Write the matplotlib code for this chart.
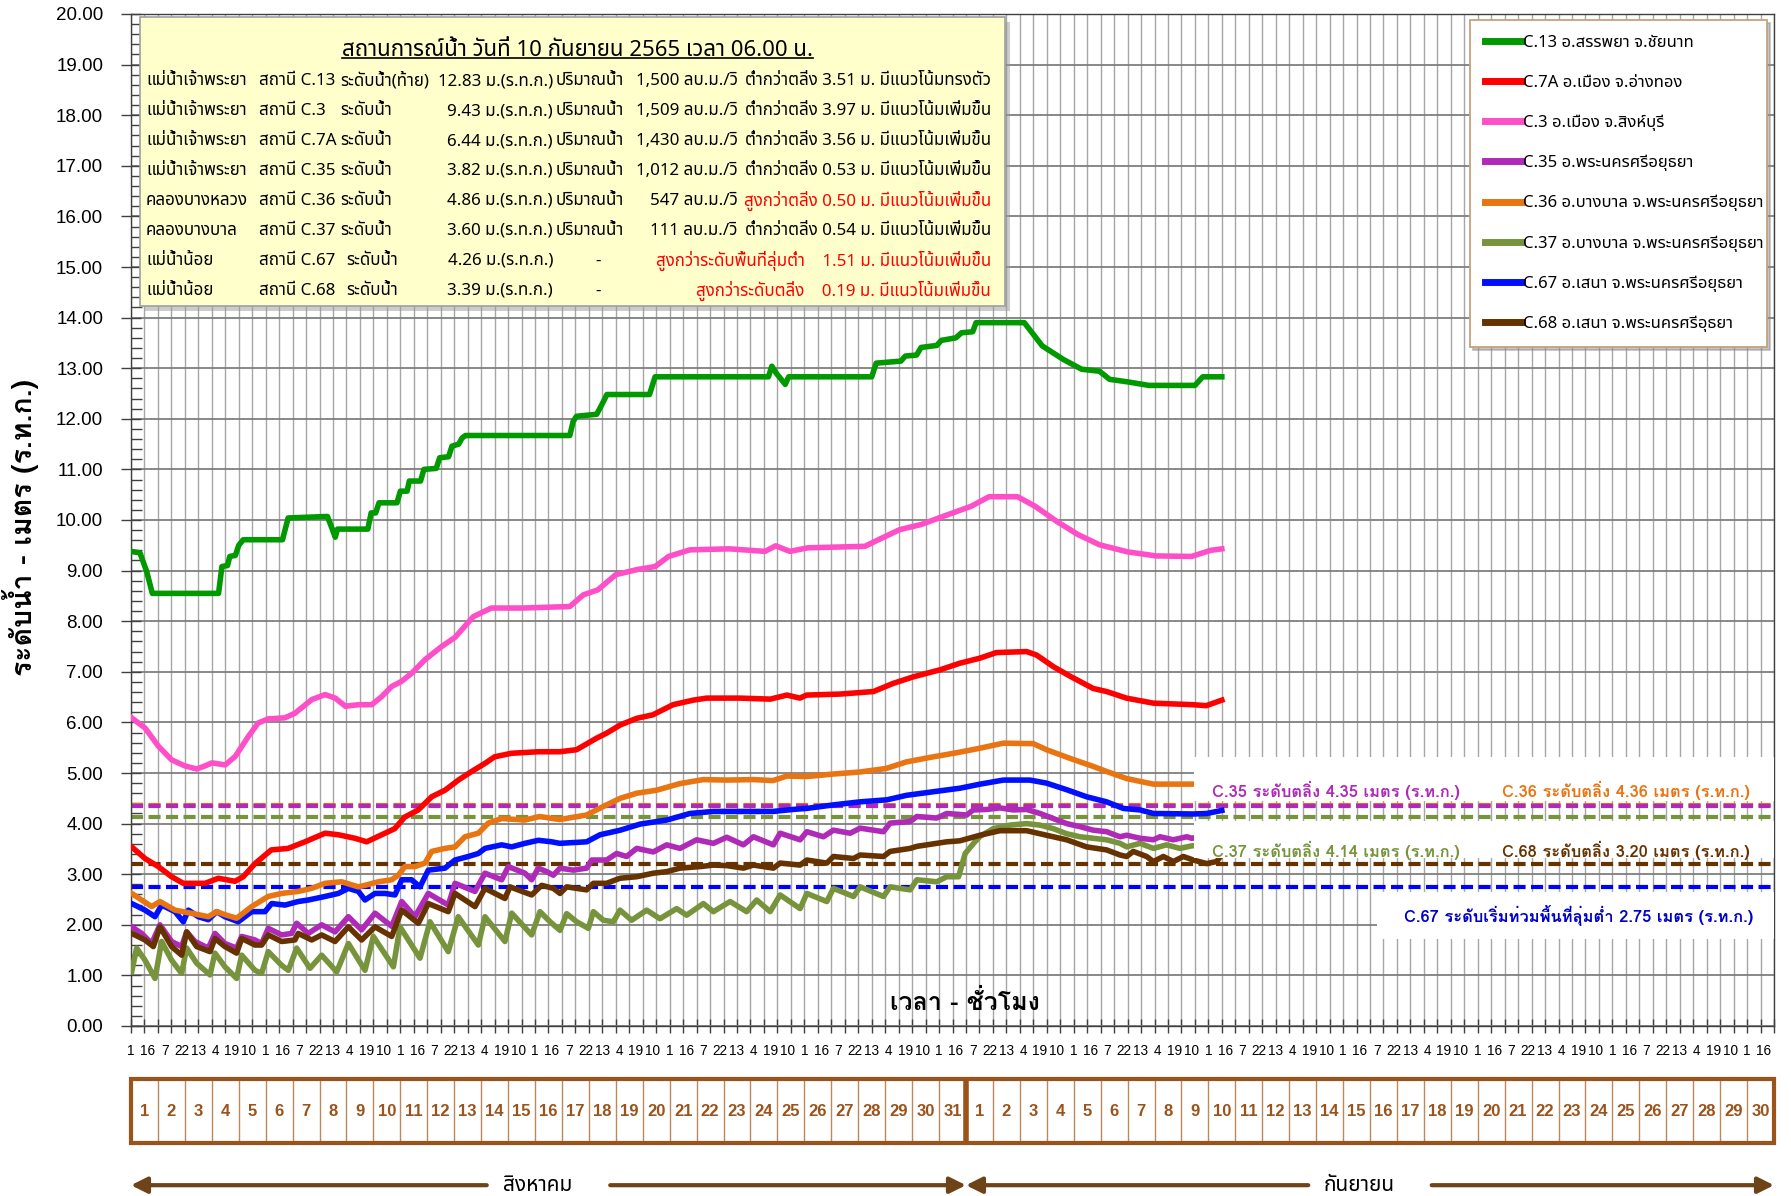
import numpy as np
import matplotlib
matplotlib.use("Agg")
import matplotlib.pyplot as plt
from matplotlib import font_manager
from matplotlib.ft2font import FT2Font
from matplotlib.patches import Rectangle
from matplotlib.lines import Line2D

W, H = 1791, 1196

# ---------------------------------------------------------------- data
# time axis: hours counted from 1 Aug 2565 01:00
t_now = 972
hours_total = 1464
month_names = ["สิงหาคม", "กันยายน"]
month_days = [31, 30]

# (hour, level m. MSL) readings per station
c13_pts = [(0, 9.38), (8, 9.35), (14, 8.98), (19, 8.55), (78, 8.55), (81, 9.08), (86, 9.10),
           (88, 9.28), (93, 9.30), (96, 9.50), (100, 9.61), (135, 9.61), (140, 10.04), (175, 10.07),
           (178, 9.90), (182, 9.66), (184, 9.82), (211, 9.82), (214, 10.14), (218, 10.14), (221, 10.34),
           (237, 10.34), (240, 10.57), (246, 10.57), (248, 10.77), (258, 10.77), (261, 11.00),
           (272, 11.02), (275, 11.23), (283, 11.25), (286, 11.46), (292, 11.50), (295, 11.62),
           (298, 11.67), (391, 11.67), (394, 11.95), (397, 12.05), (415, 12.09), (420, 12.30),
           (424, 12.48), (462, 12.48), (467, 12.83), (568, 12.83), (571, 13.04), (575, 12.90),
           (583, 12.68), (586, 12.83), (660, 12.83), (664, 13.10), (686, 13.14), (690, 13.24),
           (700, 13.26), (704, 13.41), (718, 13.45), (722, 13.55), (735, 13.60), (740, 13.70),
           (750, 13.72), (753, 13.90), (796, 13.90), (812, 13.44), (831, 13.17), (847, 12.98),
           (863, 12.94), (872, 12.78), (888, 12.73), (907, 12.66), (948, 12.66), (955, 12.83)]

c3_pts = [(0.6, 6.09), (12.5, 5.89), (24.4, 5.53), (36.2, 5.26), (48, 5.14), (58.5, 5.08), (66, 5.14),
          (72, 5.20), (84, 5.16), (93, 5.33), (104.5, 5.72), (113.4, 5.99), (122.3, 6.07), (137, 6.09),
          (146, 6.18), (161, 6.45), (173, 6.55), (182, 6.48), (191, 6.32), (203, 6.35), (214.5, 6.35),
          (223.4, 6.51), (232.3, 6.71), (241, 6.81), (250, 6.97), (262, 7.24), (276.8, 7.50),
          (288.7, 7.68), (305, 8.09), (321, 8.26), (349, 8.26), (391, 8.29), (403, 8.52), (416, 8.62),
          (432, 8.92), (451, 9.02), (467, 9.08), (479, 9.28), (498, 9.41), (533, 9.43), (565, 9.38),
          (574.5, 9.49), (587, 9.38), (603, 9.45), (654, 9.48), (666, 9.61), (685, 9.81), (704, 9.91),
          (723.5, 10.07), (748.5, 10.27), (764.5, 10.46), (790, 10.46), (805.7, 10.27), (825, 9.97),
          (844, 9.71), (863, 9.51), (888, 9.37), (913.5, 9.29), (945, 9.28), (962, 9.40)]

c7a_pts = [(0.6, 3.54), (12.5, 3.31), (24.4, 3.15), (36.2, 2.95), (46.6, 2.82), (66, 2.82), (77.8, 2.92),
           (92.7, 2.86), (100, 2.95), (110.5, 3.21), (125, 3.48), (140, 3.51), (155, 3.64), (172.9, 3.81),
           (184.7, 3.78), (199.6, 3.71), (210, 3.64), (223.4, 3.78), (235, 3.90), (244, 4.13), (256, 4.27),
           (267.9, 4.53), (279.8, 4.66), (291.7, 4.86), (303.5, 5.03), (315.4, 5.19), (324, 5.32),
           (339, 5.39), (363, 5.42), (382, 5.42), (397, 5.46), (415, 5.69), (424, 5.79), (436, 5.95),
           (450.6, 6.08), (465, 6.15), (483, 6.35), (501, 6.44), (513, 6.48), (543, 6.48), (569.6, 6.46),
           (584.5, 6.54), (596, 6.48), (602, 6.54), (632, 6.56), (661.6, 6.61), (679, 6.77), (697, 6.90),
           (721, 7.04), (738.6, 7.17), (756.5, 7.27), (771, 7.38), (798, 7.40), (807, 7.33), (822, 7.10),
           (837, 6.91), (857.4, 6.67), (869.3, 6.61), (887, 6.48), (911, 6.38), (946.5, 6.35), (958, 6.33)]

c35_pts = [(0.6, 1.96), (9.5, 1.83), (18.4, 1.63), (25.8, 2.00), (36.2, 1.67), (45.1, 1.57), (49.6, 1.86),
           (57, 1.67), (68.9, 1.54), (74.8, 1.83), (83.7, 1.63), (94.1, 1.54), (98.6, 1.77), (110.5, 1.70),
           (116.4, 1.63), (122.3, 1.93), (134.2, 1.80), (143.1, 1.83), (147.6, 2.03), (158, 1.83),
           (169.9, 2.00), (181.8, 1.86), (193.7, 2.16), (205.5, 1.90), (217.4, 2.23), (232.3, 1.97),
           (241.2, 2.46), (253, 2.16), (264.9, 2.62), (282.7, 2.39), (288.7, 2.82), (306.5, 2.66),
           (315.4, 3.02), (330.3, 2.89), (336.2, 3.15), (351, 3.02), (357, 2.89), (363, 3.12),
           (370.4, 3.05), (376.3, 2.98), (382.3, 3.12), (394.1, 3.08), (406, 3.12), (410.5, 3.28),
           (423.8, 3.28), (432.7, 3.41), (441.6, 3.35), (450.6, 3.51), (465.4, 3.44), (477.3, 3.58),
           (489.2, 3.51), (504, 3.68), (518.9, 3.61), (530.8, 3.73), (545.7, 3.58), (554.6, 3.74),
           (572.4, 3.58), (578.4, 3.81), (596.2, 3.68), (602.2, 3.84), (617, 3.74), (625.9, 3.87),
           (640.8, 3.81), (649.7, 3.91), (670.5, 3.84), (676.4, 4.01), (694.3, 4.04), (700.2, 4.14),
           (718, 4.11), (726.9, 4.20), (744.7, 4.17), (750.5, 4.27), (762.4, 4.28), (774.3, 4.31),
           (786.2, 4.27), (798, 4.28), (810, 4.20), (821.8, 4.10), (833.7, 4.00), (845.6, 3.94),
           (857.4, 3.87), (869.3, 3.84), (881.2, 3.74), (887.2, 3.77), (899.1, 3.71), (911, 3.68),
           (916.9, 3.74), (928.8, 3.68), (940.7, 3.74), (945.1, 3.71)]

c36_pts = [(0.6, 2.62), (18.4, 2.36), (25.8, 2.46), (39.2, 2.29), (60, 2.20), (68.9, 2.16), (76.3, 2.26),
           (83.7, 2.20), (94.1, 2.13), (107.5, 2.36), (122.3, 2.56), (134.2, 2.62), (149, 2.66),
           (161, 2.72), (172.9, 2.82), (187.7, 2.85), (202.6, 2.75), (208.5, 2.78), (220.4, 2.85),
           (232.3, 2.89), (238.2, 2.98), (244.1, 3.15), (253, 3.15), (262, 3.22), (267.9, 3.45),
           (279.8, 3.51), (288.7, 3.54), (297.6, 3.74), (309.5, 3.81), (318.4, 4.01), (330.3, 4.10),
           (351, 4.07), (364, 4.14), (382, 4.08), (406, 4.17), (421, 4.34), (436, 4.50), (450.6, 4.60),
           (468.4, 4.66), (489, 4.79), (510, 4.87), (531, 4.86), (554.5, 4.87), (572, 4.85), (584.5, 4.94),
           (602, 4.93), (626, 4.98), (649.6, 5.02), (673, 5.09), (691, 5.22), (715, 5.32), (735.6, 5.40),
           (756.5, 5.49), (777.3, 5.59), (804, 5.58), (815.8, 5.46), (836.6, 5.29), (857.4, 5.13),
           (869.3, 5.03), (887.2, 4.89), (911, 4.78), (946.6, 4.78)]

c37_pts = [(0.6, 1.07), (5, 1.54), (12.5, 1.30), (21.4, 0.94), (27.3, 1.67), (36.2, 1.30), (45.1, 1.04),
           (49.6, 1.54), (58.5, 1.24), (70.4, 1.01), (74.8, 1.44), (83.7, 1.17), (94.1, 0.94), (98.6, 1.40),
           (110.5, 1.10), (116.4, 1.04), (122.3, 1.47), (134.2, 1.20), (140.2, 1.10), (147.6, 1.54),
           (159.5, 1.14), (169.9, 1.40), (183.3, 1.07), (193.7, 1.63), (208.5, 1.10), (215.9, 1.77),
           (233.8, 1.17), (239.7, 1.96), (257.5, 1.34), (266.4, 2.06), (282.7, 1.47), (291.6, 2.16),
           (309.5, 1.60), (315.4, 2.16), (333.2, 1.67), (339.2, 2.23), (357, 1.80), (364.4, 2.26),
           (373.4, 2.06), (382.3, 1.89), (388.2, 2.22), (397.1, 2.06), (407.5, 1.93), (412, 2.26),
           (420.9, 2.09), (429.8, 2.06), (435.7, 2.29), (446.1, 2.09), (459.5, 2.29), (471.3, 2.12),
           (486.2, 2.32), (495.1, 2.19), (510, 2.42), (518.9, 2.26), (533.8, 2.46), (548.6, 2.26),
           (557.5, 2.49), (569.5, 2.26), (578.4, 2.59), (596.2, 2.32), (602.2, 2.62), (620, 2.46),
           (625.9, 2.72), (643.8, 2.56), (649.7, 2.75), (670.5, 2.56), (676.4, 2.75), (694.3, 2.69),
           (700.2, 2.89), (718, 2.85), (726.9, 2.95), (737.4, 2.95), (743.3, 3.41), (750.8, 3.61),
           (756.6, 3.75), (768.4, 3.90), (783.2, 3.97), (798, 4.00), (810, 3.97), (821.8, 3.90),
           (833.7, 3.80), (845.6, 3.74), (857.4, 3.71), (869.3, 3.68), (881.2, 3.61), (887.2, 3.54),
           (899.1, 3.61), (911, 3.51), (922.8, 3.58), (934.7, 3.51), (945.1, 3.56)]

c67_pts = [(0.6, 2.42), (12.5, 2.29), (21.4, 2.16), (27.3, 2.39), (39.2, 2.26), (46.6, 2.06), (51.1, 2.29),
           (60, 2.16), (68.9, 2.10), (76.3, 2.26), (83.7, 2.16), (95.6, 2.06), (107.5, 2.26), (119.4, 2.26),
           (125.3, 2.42), (137.2, 2.39), (149, 2.46), (158, 2.49), (172.9, 2.56), (184.7, 2.62),
           (193.7, 2.72), (202.6, 2.66), (208.5, 2.49), (217.4, 2.62), (226.3, 2.62), (235.2, 2.59),
           (241.2, 2.89), (250, 2.89), (257.5, 2.75), (264.9, 3.08), (279.8, 3.12), (288.7, 3.28),
           (300.6, 3.35), (309.5, 3.41), (315.4, 3.51), (330.3, 3.58), (339.2, 3.54), (351, 3.61),
           (363, 3.67), (374.9, 3.64), (382, 3.61), (406, 3.64), (418, 3.78), (436, 3.87), (453.6, 3.99),
           (477.3, 4.07), (498, 4.20), (519, 4.24), (572, 4.24), (590, 4.28), (602, 4.30), (626, 4.37),
           (649.7, 4.43), (673.5, 4.47), (691.3, 4.56), (715, 4.63), (738.8, 4.70), (756.6, 4.78),
           (777.3, 4.86), (801, 4.86), (815.8, 4.80), (833.7, 4.67), (851.5, 4.53), (869.3, 4.43),
           (884.2, 4.30), (899.1, 4.27), (911, 4.20), (946.6, 4.19), (958.5, 4.20)]

c68_pts = [(0.6, 1.83), (12.5, 1.70), (19.9, 1.57), (25.8, 1.96), (36.2, 1.57), (45.1, 1.40), (49.6, 1.86),
           (58.5, 1.57), (70.4, 1.47), (74.8, 1.73), (83.7, 1.57), (94.1, 1.44), (98.6, 1.73), (110.5, 1.60),
           (116.4, 1.60), (122.3, 1.80), (134.2, 1.67), (146, 1.70), (149, 1.83), (161, 1.70), (169.9, 1.80),
           (181.8, 1.67), (193.7, 1.96), (205.5, 1.70), (217.4, 1.96), (232.3, 1.77), (241.2, 2.29),
           (256, 2.03), (264.9, 2.42), (282.7, 2.26), (288.7, 2.62), (306.5, 2.36), (315.4, 2.72),
           (333.2, 2.52), (337.7, 2.75), (357, 2.59), (365.9, 2.78), (376.3, 2.72), (382.3, 2.62),
           (388.2, 2.75), (406, 2.69), (412, 2.82), (423.8, 2.82), (435.7, 2.92), (450.6, 2.95),
           (465.4, 3.02), (477.3, 3.05), (489.2, 3.12), (507, 3.15), (518.9, 3.18), (530.8, 3.17),
           (545.7, 3.12), (554.6, 3.18), (572.4, 3.12), (578.4, 3.22), (596.2, 3.18), (602.2, 3.28),
           (620, 3.22), (625.9, 3.35), (643.8, 3.31), (649.7, 3.38), (670.5, 3.35), (676.4, 3.45),
           (694.3, 3.51), (700.2, 3.55), (718, 3.61), (726.9, 3.64), (738.6, 3.66), (756.5, 3.77),
           (774.3, 3.86), (798, 3.86), (815.8, 3.77), (833.7, 3.68), (851.5, 3.54), (869.3, 3.48),
           (881.2, 3.38), (887.2, 3.35), (893.1, 3.45), (905, 3.35), (911, 3.25), (919.9, 3.35),
           (928.8, 3.25), (937.7, 3.35), (946.6, 3.28), (958.5, 3.21), (967.4, 3.25)]

# situation table, 10 Sep 2565 06:00
codes = ["C.13", "C.3", "C.7A", "C.35", "C.36", "C.37", "C.67", "C.68"]
rivers = ["แม่น้ำเจ้าพระยา", "แม่น้ำเจ้าพระยา", "แม่น้ำเจ้าพระยา", "แม่น้ำเจ้าพระยา",
          "คลองบางหลวง", "คลองบางบาล", "แม่น้ำน้อย", "แม่น้ำน้อย"]
level_now = [12.83, 9.43, 6.44, 3.82, 4.86, 3.60, 4.26, 3.39]
flow_now = [1500, 1509, 1430, 1012, 547, 111, None, None]
bank_diff = [3.51, 3.97, 3.56, 0.53, 0.50, 0.54, 1.51, 0.19]
bank_ref = ["ต่ำกว่าตลิ่ง", "ต่ำกว่าตลิ่ง", "ต่ำกว่าตลิ่ง", "ต่ำกว่าตลิ่ง", "สูงกว่าตลิ่ง",
            "ต่ำกว่าตลิ่ง", "สูงกว่าระดับพื้นที่ลุ่มต่ำ", "สูงกว่าระดับตลิ่ง"]
trend = ["มีแนวโน้มทรงตัว"] + ["มีแนวโน้มเพิ่มขึ้น"] * 7

series_pts = {"C.13": c13_pts, "C.3": c3_pts, "C.7A": c7a_pts, "C.35": c35_pts,
              "C.36": c36_pts, "C.37": c37_pts, "C.67": c67_pts, "C.68": c68_pts}

legend_codes = ["C.13", "C.7A", "C.3", "C.35", "C.36", "C.37", "C.67", "C.68"]
legend_names = ["C.13 อ.สรรพยา จ.ชัยนาท", "C.7A อ.เมือง จ.อ่างทอง", "C.3 อ.เมือง จ.สิงห์บุรี",
                "C.35 อ.พระนครศรีอยุธยา", "C.36 อ.บางบาล จ.พระนครศรีอยุธยา",
                "C.37 อ.บางบาล จ.พระนครศรีอยุธยา", "C.67 อ.เสนา จ.พระนครศรีอยุธยา",
                "C.68 อ.เสนา จ.พระนครศรีอุธยา"]

thr_codes = ["C.36", "C.35", "C.37", "C.68", "C.67"]
thr_level = [4.36, 4.35, 4.14, 3.20, 2.75]
thr_text = ["C.36 ระดับตลิ่ง 4.36 เมตร (ร.ท.ก.)", "C.35 ระดับตลิ่ง 4.35 เมตร (ร.ท.ก.)",
            "C.37 ระดับตลิ่ง 4.14 เมตร (ร.ท.ก.)", "C.68 ระดับตลิ่ง 3.20 เมตร (ร.ท.ก.)",
            "C.67 ระดับเริ่มท่วมพื้นที่ลุ่มต่ำ 2.75 เมตร (ร.ท.ก.)"]

colors = {"C.13": "#009900", "C.7A": "#FF0000", "C.3": "#FF4FC8", "C.35": "#B02AB8",
          "C.36": "#E87511", "C.37": "#77943C", "C.67": "#0010FF", "C.68": "#663300"}


# ---------------------------------------------------------------- fonts
def _weight(w):
    if isinstance(w, str):
        return font_manager.weight_dict.get(w, 400)
    return int(w)


def pick_thai_fonts():
    """Return (regular, bold) family names that cover Thai script."""
    preferred = ["Noto Sans Thai", "Noto Sans Thai UI", "Tahoma", "Loma", "Garuda",
                 "Sarabun", "Tlwg Typo", "Kinnari", "Norasi"]
    weights = {}
    for f in font_manager.fontManager.ttflist:
        try:
            if 0x0E01 not in FT2Font(f.fname).get_charmap():
                continue
        except Exception:
            continue
        weights.setdefault(f.name, set()).add(_weight(f.weight))
    if not weights:
        return "DejaVu Sans", "DejaVu Sans"

    def first(pool):
        for name in preferred:
            if name in pool:
                return name
        return pool[0] if pool else None

    regular = first(list(weights))
    bold = first([n for n, ws in weights.items() if max(ws) >= 600]) or regular
    return regular, bold


TH, TH_BOLD = pick_thai_fonts()
FAM = [TH, "DejaVu Sans"]
FAM_B = [TH_BOLD, "DejaVu Sans"]
NARROW = ["Liberation Sans Narrow", "Liberation Sans", "DejaVu Sans"]
plt.rcParams["font.family"] = FAM

BROWN = "#9A531B"

fig = plt.figure(figsize=(W / 100, H / 100), dpi=100)
ax = fig.add_axes([131 / W, 1 - 1026 / H, 1643 / W, 1012 / H])

# station lines, each ending on the reported 06:00 level
draw_order = ["C.37", "C.35", "C.68", "C.67", "C.36", "C.7A", "C.3", "C.13"]
for code in draw_order:
    t, v = np.array(series_pts[code]).T
    t = np.append(t, t_now)
    v = np.append(v, level_now[codes.index(code)])
    ax.plot(t, v, color=colors[code], lw=4.0, solid_joinstyle="round", zorder=3)

# bank / flood thresholds
for code, lvl in zip(thr_codes, thr_level):
    ax.axhline(lvl, color=colors[code] if code != "C.67" else "#0000FF", lw=3.0,
               dashes=(2.9, 1.3), zorder=2.5)

# white panels behind the threshold captions
for x0, y0, y1 in [(947, 4.44, 5.32), (947, 3.33, 4.06), (1110, 1.72, 2.64)]:
    ax.add_patch(Rectangle((x0, y0), hours_total - x0, y1 - y0, facecolor="white",
                           edgecolor="none", zorder=3.6))
lab_pos = {"C.35": (1074, 4.66), "C.36": (1332, 4.66), "C.37": (1074, 3.47),
           "C.68": (1332, 3.47), "C.67": (1290, 2.18)}
lab_col = {"C.35": "#B02AB8", "C.36": "#E87511", "C.37": "#77943C", "C.68": "#663300",
           "C.67": "#0000CC"}
for code, txt in zip(thr_codes, thr_text):
    x, y = lab_pos[code]
    ax.text(x, y, txt, ha="center", va="center", fontsize=11.9, fontweight="bold",
            family=FAM_B, color=lab_col[code], zorder=4)

# axes, ticks and grid
ax.set_xlim(0, hours_total)
ax.set_ylim(0, 20)
ax.xaxis.remove_overlapping_locs = False
ax.set_xticks(np.arange(0, hours_total + 1, 12), labels=[])
xt = np.arange(0, hours_total, 15)
ax.set_xticks(xt, labels=[str((1 + h) % 24) for h in xt], minor=True,
              fontsize=9.8, fontfamily=NARROW)
yt = np.arange(0, 21, 1)
ax.set_yticks(yt, labels=[f"{v:.2f}" for v in yt], fontsize=13.5, fontfamily=["Liberation Sans"])
ax.set_yticks(np.arange(0, 20.01, 0.2), minor=True)
ax.tick_params(axis="x", which="major", direction="inout", length=10, width=1, color="#404040")
ax.tick_params(axis="x", which="minor", length=0, pad=13)
ax.tick_params(axis="y", which="major", direction="inout", length=14, width=1, pad=13, color="#404040")
ax.tick_params(axis="y", which="minor", direction="in", length=8, width=1, color="#404040")
ax.grid(which="major", axis="x", color="#A6A6A6", lw=1.0, zorder=0)
ax.grid(which="major", axis="y", color="#7F7F7F", lw=1.3, zorder=0)
ax.set_axisbelow(True)
for s in ax.spines.values():
    s.set_color("#404040")
    s.set_linewidth(1.0)

ax.text((965 - 131) / 1643, (1026 - 1002) / 1012, "เวลา - ชั่วโมง", transform=ax.transAxes,
        ha="center", va="center", fontsize=18, fontweight="bold", family=FAM_B, zorder=4)
fig.text(21 / W, 1 - 528 / H, "ระดับน้ำ - เมตร (ร.ท.ก.)", rotation=90, ha="center", va="center",
         fontsize=20.5, fontweight="bold", family=FAM_B)

# legend
handles = [Line2D([], [], color=colors[c], lw=5) for c in legend_codes]
leg = ax.legend(handles, legend_names, loc="upper left",
                bbox_to_anchor=(0.815, 0.679, 0.181, 0.315), mode="expand",
                fontsize=12, labelspacing=1.43, handlelength=2.2, handletextpad=0.1,
                borderpad=0.9, borderaxespad=0, fancybox=False, framealpha=1,
                edgecolor="#C4A27C", shadow={"color": "0.55", "alpha": 0.5})
leg.set_zorder(10)
leg.get_frame().set_linewidth(1.3)


# situation table
def fpx(x, y, s, **kw):
    return fig.text(x / W, 1 - y / H, s, va="center", zorder=7, **kw)


fig.add_artist(Rectangle((145 / W, 1 - 311 / H), 865 / W, 289 / H, transform=fig.transFigure,
                         facecolor="#9A9A9A", alpha=0.5, edgecolor="none", zorder=5))
fig.add_artist(Rectangle((140 / W, 1 - 306 / H), 865 / W, 289 / H, transform=fig.transFigure,
                         facecolor="#FFFFCC", edgecolor="#A0A0A0", lw=1.2, zorder=6))
title = fpx(577, 50, "สถานการณ์น้ำ วันที่ 10 กันยายน 2565 เวลา 06.00 น.", ha="center", fontsize=16)

TS = 12.2
for i, code in enumerate(codes):
    y = 81.1 + i * 29.95
    alert = bank_ref[i].startswith("สูง")
    fpx(146, y, rivers[i], fontsize=TS)
    fpx(259, y, f"สถานี {code}", fontsize=TS)
    fpx(340 if i < 6 else 346, y, "ระดับน้ำ(ท้าย)" if i == 0 else "ระดับน้ำ", fontsize=TS)
    fpx(553, y, f"{level_now[i]:.2f} ม.(ร.ท.ก.)", ha="right", fontsize=TS)
    if flow_now[i] is not None:
        fpx(556, y, "ปริมาณน้ำ", fontsize=TS)
        fpx(738, y, f"{flow_now[i]:,} ลบ.ม./วิ", ha="right", fontsize=TS)
        status = f"{bank_ref[i]} {bank_diff[i]:.2f} ม. {trend[i]}"
    else:
        fpx(598, y, "-", ha="center", fontsize=TS)
        status = f"{bank_ref[i]}    {bank_diff[i]:.2f} ม. {trend[i]}"
    fpx(991, y, status, ha="right", fontsize=TS, color="#FF0000" if alert else "black")

# day boxes
axd = fig.add_axes([131 / W, 1 - 1143 / H, 1643 / W, 64 / H])
axd.set_xlim(0, hours_total)
axd.set_ylim(0, 1)
axd.axis("off")
start = 0
for mi, nd in enumerate(month_days):
    for d in range(1, nd + 1):
        x0 = start + (d - 1) * 24
        if d > 1:
            axd.plot([x0, x0], [0, 1], color="#B9895C", lw=1.0, zorder=2)
        axd.text(x0 + 12, 0.5, str(d), ha="center", va="center", fontsize=12,
                 fontweight="bold", color=BROWN, fontfamily=NARROW)
    start += nd * 24
axd.plot([744, 744], [0, 1], color=BROWN, lw=4, zorder=3)
axd.add_patch(Rectangle((0, 0), hours_total, 1, fill=False, edgecolor=BROWN, lw=3, zorder=4,
                        clip_on=False))

# month arrows
axm = fig.add_axes([131 / W, 0, 1643 / W, 36 / H])
axm.set_xlim(0, hours_total)
axm.set_ylim(0, 1)
axm.axis("off")
arrow_kw = dict(arrowstyle="-|>", color="#6E4318", lw=3, mutation_scale=24, shrinkA=0, shrinkB=0)
start = 0
for name, nd in zip(month_names, month_days):
    end = start + nd * 24
    mid = (start + end) / 2
    axm.annotate("", xy=(start, 0.3), xytext=(mid - 55, 0.3), arrowprops=arrow_kw)
    axm.annotate("", xy=(end, 0.3), xytext=(mid + 55, 0.3), arrowprops=arrow_kw)
    axm.text(mid - 10, 0.3, name, ha="center", va="center", fontsize=15)
    start = end

# underline the table heading
fig.canvas.draw()
bb = title.get_window_extent().transformed(fig.transFigure.inverted())
fig.add_artist(Line2D([bb.x0, bb.x1], [bb.y0 + 0.002, bb.y0 + 0.002], color="black", lw=1.2,
                      transform=fig.transFigure, zorder=7))

fig.savefig("out.png", dpi=100)
